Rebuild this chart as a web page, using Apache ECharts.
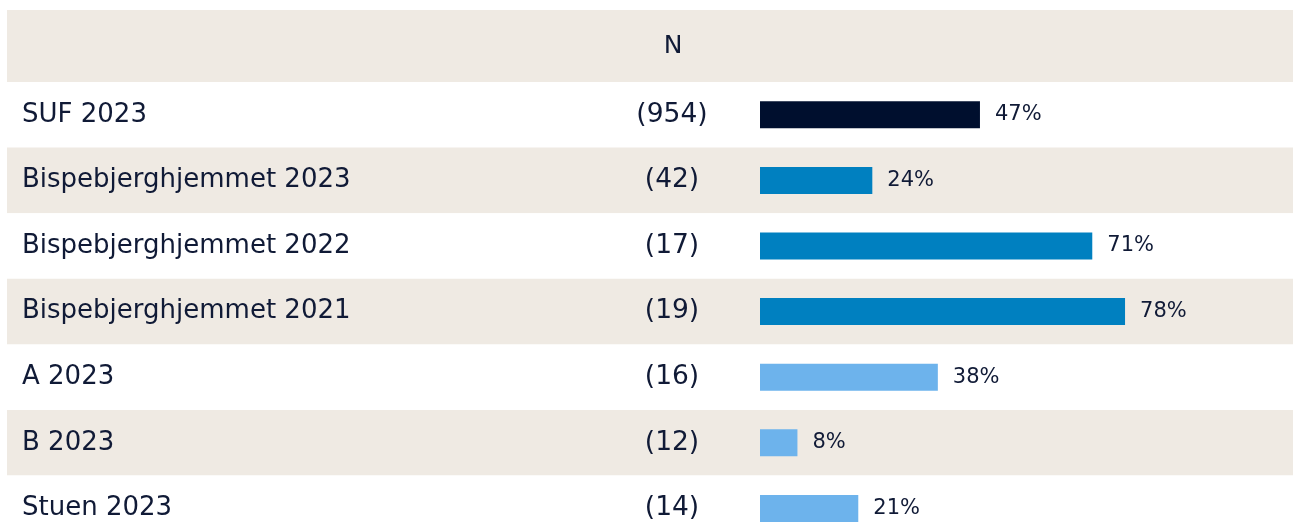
<!DOCTYPE html>
<html>
<head>
<meta charset="utf-8">
<script src="https://cdn.jsdelivr.net/npm/echarts@6/dist/echarts.min.js"></script>
<style>
html,body{margin:0;padding:0;background:#fff;overflow:hidden;}
#wrap{width:1293px;height:523px;overflow:hidden;}
#c{width:1293px;height:542px;}
</style>
</head>
<body>
<div id="wrap"><div id="c"></div></div>
<script>
const categories = ['SUF 2023','Bispebjerghjemmet 2023','Bispebjerghjemmet 2022','Bispebjerghjemmet 2021','A 2023','B 2023','Stuen 2023'];
const nValues = [954, 42, 17, 19, 16, 12, 14];
const percents = [47, 24, 71, 78, 38, 8, 21];
const groups = ['total','unit','unit','unit','dept','dept','dept'];
const headerLabel = 'N';

const groupColors = {total:'#000f2e', unit:'#0080c0', dept:'#6db3ec'};
const textColor = '#101a36';
const beige = '#efeae3';
const font = '"DejaVu Sans"';

const chart = echarts.init(document.getElementById('c'), null, {renderer:'canvas'});
chart.setOption({
  animation:false,
  backgroundColor:'#ffffff',
  textStyle:{fontFamily:font},
  graphic:[
    {type:'rect', left:7, top:10, shape:{width:1286, height:72}, style:{fill:beige}, z:-10},
    {type:'text', x:673, y:46, style:{text:headerLabel, fill:textColor, font:'25px '+font, textAlign:'center', textVerticalAlign:'middle'}}
  ],
  grid:[
    {left:7, right:0, top:82, bottom:0.8, show:false},
    {left:760, right:65, top:82, bottom:0.8, show:false}
  ],
  xAxis:[
    {gridIndex:0, type:'value', min:0, max:100, show:false},
    {gridIndex:1, type:'value', min:0, max:100, show:false}
  ],
  yAxis:[
    {gridIndex:0, type:'category', inverse:true, data:categories,
     axisLine:{show:false}, axisTick:{show:false},
     splitArea:{show:true, areaStyle:{color:['#ffffff', beige]}},
     axisLabel:{inside:true, margin:15, color:textColor, fontSize:26, fontFamily:font}},
    {gridIndex:1, type:'category', inverse:true, data:categories,
     axisLine:{show:false}, axisTick:{show:false},
     axisLabel:{margin:88, align:'center', color:textColor, fontSize:26.5, fontFamily:font,
       formatter:(v, i)=>'(' + nValues[i] + ')'}}
  ],
  series:[{
    type:'bar', xAxisIndex:1, yAxisIndex:1, barWidth:27,
    data: percents.map((p,i)=>({value:p, itemStyle:{color:groupColors[groups[i]]}})),
    label:{show:true, position:'right', distance:15, color:textColor, fontSize:21, fontFamily:font,
      formatter:p=>p.value+'%'}
  }]
});
</script>
</body>
</html>
